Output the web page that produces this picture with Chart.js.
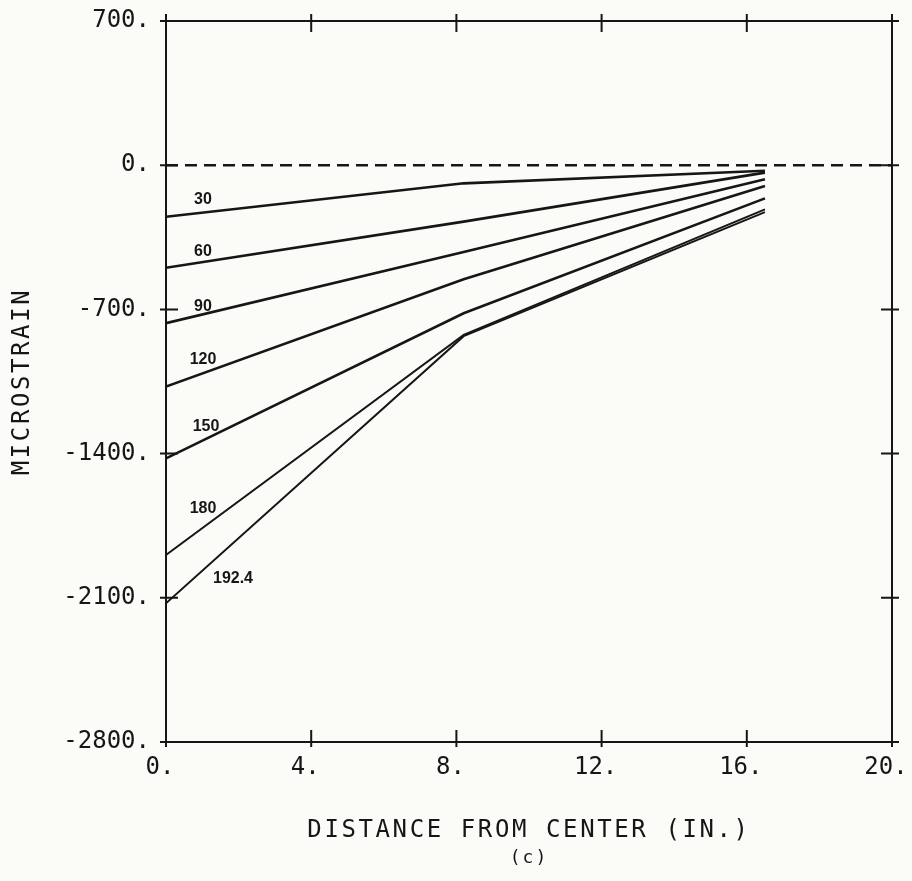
<!DOCTYPE html>
<html>
<head>
<meta charset="utf-8">
<script src="https://cdn.jsdelivr.net/npm/chart.js@4.4.1/dist/chart.umd.min.js"></script>
<style>
html, body { margin: 0; padding: 0; background: #fbfcf7; }
canvas { display: block; }
</style>
</head>
<body>
<canvas id="strain" width="912" height="881"></canvas>
<script>
// distance from center (in.) where strain was read
let dist = [0, 8.2, 16.5]
let loads = ['30', '60', '90', '120', '150', '180', '192.4']
let strain30 = [-250, -88, -27]
let strain60 = [-498, -274, -36]
let strain90 = [-767, -421, -68]
let strain120 = [-1075, -554, -101]
let strain150 = [-1423, -719, -161]
let strain180 = [-1892, -824, -215]
let strain192 = [-2127, -830, -228]
let zeroX = [0, 20]
let zeroY = [0, 0]
let xTicks = [0, 4, 8, 12, 16, 20]
let yTicks = [-2800, -2100, -1400, -700, 0, 700]

let ink = '#161616'
let mono = 'DejaVu Sans Mono'

let pts = (xs, ys) => xs.map((x, i) => ({ x: x, y: ys[i] }))

let series = [strain30, strain60, strain90, strain120, strain150, strain180, strain192]
let sets = series.map((s, i) => ({
    label: loads[i],
    data: pts(dist, s),
    borderColor: ink,
    borderWidth: i < 5 ? 2.6 : 1.9,
    pointRadius: 0,
    fill: false,
    tension: 0
}))
sets.push({
    label: 'zero',
    data: pts(zeroX, zeroY),
    borderColor: ink,
    borderWidth: 2.6,
    borderDash: [12, 7],
    pointRadius: 0,
    fill: false
})

// where each load label sits relative to the start of its line (px)
let labelOff = [[37, -17], [37, -16], [37, -17], [37, -27], [40, -32], [37, -46], [67, -25]]

// box round the plot with ticks crossing all four sides
let frame = {
    id: 'frame',
    afterLayout(chart) {
        ['x', 'y'].forEach(id => {
            let s = chart.scales[id]
            if (s._spaced) return
            let draw = s.drawTitle
            s.drawTitle = function () {
                this.ctx.save()
                this.ctx.letterSpacing = '2.6px'
                draw.call(this)
                this.ctx.restore()
            }
            s._spaced = true
        })
    },
    afterDatasetsDraw(chart) {
        let ctx = chart.ctx
        let a = chart.chartArea
        let xs = chart.scales.x, ys = chart.scales.y
        ctx.save()
        ctx.strokeStyle = ink
        ctx.lineWidth = 2
        ctx.strokeRect(a.left, a.top, a.right - a.left, a.bottom - a.top)
        ctx.beginPath()
        xTicks.forEach(v => {
            let px = xs.getPixelForValue(v)
            ctx.moveTo(px, a.top - 7); ctx.lineTo(px, a.top + 11)
            ctx.moveTo(px, a.bottom - 12); ctx.lineTo(px, a.bottom + 5)
        })
        yTicks.forEach(v => {
            let py = ys.getPixelForValue(v)
            ctx.moveTo(a.left - 6, py); ctx.lineTo(a.left + 12, py)
            ctx.moveTo(a.right - 11, py); ctx.lineTo(a.right + 7, py)
        })
        ctx.stroke()

        ctx.fillStyle = ink
        ctx.font = 'bold 16px "Liberation Sans"'
        ctx.textAlign = 'center'
        ctx.textBaseline = 'middle'
        loads.forEach((t, i) => {
            let p = chart.getDatasetMeta(i).data[0]
            ctx.fillText(t, p.x + labelOff[i][0], p.y + labelOff[i][1])
        })

        // panel letter under the axis title
        ctx.font = '18px ' + mono
        ctx.letterSpacing = '2px'
        ctx.fillText('(c)', (a.left + a.right) / 2, 858)
        ctx.restore()
    }
}

new Chart('strain', {
    type: 'line',
    data: { datasets: sets },
    plugins: [frame],
    options: {
        responsive: false,
        animation: false,
        layout: { padding: { top: 21, right: 20, left: 0, bottom: 0 } },
        plugins: {
            legend: { display: false },
            tooltip: { enabled: false }
        },
        scales: {
            x: {
                type: 'linear',
                min: 0,
                max: 20,
                afterBuildTicks: s => { s.ticks = xTicks.map(v => ({ value: v })) },
                afterFit: s => {
                    s.height = 139
                    s.paddingLeft = 0
                    s.paddingRight = 0
                },
                grid: { display: false },
                border: { display: false },
                ticks: {
                    padding: 3,
                    labelOffset: -6,
                    color: ink,
                    font: { family: mono, size: 24 },
                    callback: v => v + '.'
                },
                title: {
                    display: true,
                    text: 'DISTANCE FROM CENTER (IN.)',
                    color: ink,
                    font: { family: mono, size: 24 },
                    padding: { top: 0, bottom: 36 }
                }
            },
            y: {
                min: -2800,
                max: 700,
                afterBuildTicks: s => { s.ticks = yTicks.map(v => ({ value: v })) },
                afterFit: s => {
                    s.width = 166
                    s.paddingTop = 0
                    s.paddingBottom = 0
                },
                grid: { display: false },
                border: { display: false },
                ticks: {
                    padding: 8,
                    color: ink,
                    font: { family: mono, size: 24 },
                    callback: v => v + '.'
                },
                title: {
                    display: true,
                    text: 'MICROSTRAIN',
                    color: ink,
                    font: { family: mono, size: 24 },
                    padding: { top: 8, bottom: 0 }
                }
            }
        }
    }
})
</script>
</body>
</html>
